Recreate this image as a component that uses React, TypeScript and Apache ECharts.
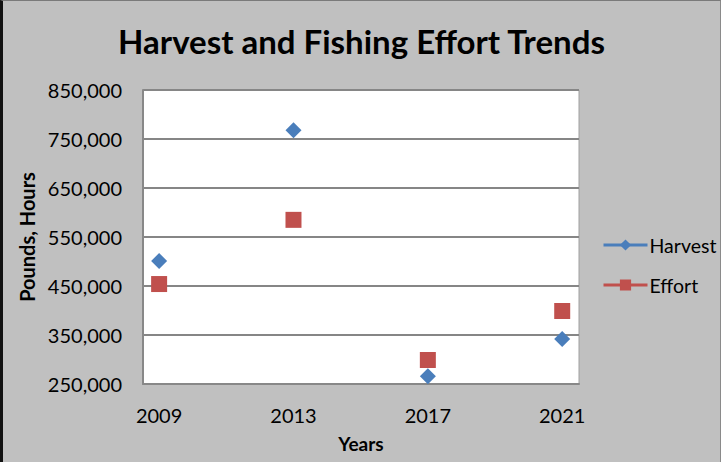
import React, { useEffect, useRef } from "react";
import * as echarts from "echarts";

const years = [2009, 2013, 2017, 2021];
const harvest = [501000, 768000, 266000, 342000];
const effort = [454000, 585000, 299000, 399000];
const yTicks = [250000, 350000, 450000, 550000, 650000, 750000, 850000];

const FONT = "Lato, 'Open Sans', sans-serif";

export default function App() {
  const ref = useRef<HTMLDivElement>(null);

  useEffect(() => {
    if (!ref.current) return;
    const chart = echarts.init(ref.current, undefined, { renderer: "svg" });
    chart.setOption({
      animation: false,
      backgroundColor: "#c0c0c0",
      textStyle: { fontFamily: FONT },
      title: {
        text: "Harvest and Fishing Effort Trends",
        left: "center",
        top: 18,
        textStyle: { fontFamily: FONT, fontSize: 33, fontWeight: "bold", color: "#000" },
      },
      grid: {
        left: 140,
        top: 89,
        width: 436,
        height: 294,
        show: true,
        backgroundColor: "#ffffff",
        borderColor: "#a0a0a0",
        borderWidth: 1,
      },
      xAxis: {
        type: "value",
        min: years[0] - 0.48,
        max: years[years.length - 1] + 0.5,
        name: "Years",
        nameLocation: "middle",
        nameGap: 50,
        nameTextStyle: { fontFamily: FONT, fontSize: 19, fontWeight: "bold", color: "#000" },
        axisLine: { show: true, lineStyle: { color: "#888888", width: 2 } },
        axisTick: { show: false },
        splitLine: { show: false },
        axisLabel: {
          customValues: years,
          formatter: (v: number) => String(v),
          fontFamily: FONT,
          fontSize: 20,
          color: "#000",
          margin: 21,
        },
      },
      yAxis: {
        type: "value",
        min: yTicks[0],
        max: yTicks[yTicks.length - 1],
        interval: 100000,
        name: "Pounds, Hours",
        nameLocation: "middle",
        nameGap: 99,
        nameTextStyle: { fontFamily: FONT, fontSize: 20, fontWeight: "bold", color: "#000" },
        axisLine: { show: true, lineStyle: { color: "#888888", width: 2 } },
        axisTick: { show: false },
        splitLine: { show: true, lineStyle: { color: "#868686", width: 2 } },
        axisLabel: {
          formatter: (v: number) => v.toLocaleString("en-US"),
          fontFamily: FONT,
          fontSize: 20,
          color: "#000",
          margin: 21,
        },
      },
      legend: {
        orient: "vertical",
        left: 594,
        top: 229,
        itemGap: 20,
        itemWidth: 44,
        itemHeight: 14,
        textStyle: { fontFamily: FONT, fontSize: 19.5, color: "#000", padding: [0, 0, 0, -3] },
        lineStyle: { opacity: 1, width: 3 },
        data: ["Harvest", "Effort"],
      },
      series: [
        {
          name: "Harvest",
          type: "line",
          data: years.map((y, i) => [y, harvest[i]]),
          symbol: "diamond",
          symbolSize: 16,
          color: "#4a7ebb",
          itemStyle: { color: "#4a7ebb" },
          lineStyle: { opacity: 0, width: 3, color: "#4a7ebb" },
        },
        {
          name: "Effort",
          type: "line",
          data: years.map((y, i) => [y, effort[i]]),
          symbol: "rect",
          symbolSize: 16,
          color: "#c0504d",
          itemStyle: { color: "#c0504d" },
          lineStyle: { opacity: 0, width: 3, color: "#c0504d" },
        },
      ],
    });
    return () => chart.dispose();
  }, []);

  return (
    <div
      style={{
        width: 721,
        height: 462,
        boxSizing: "border-box",
        borderLeft: "3px solid #111",
        borderTop: "1px solid #7a7a7a",
        borderRight: "1px solid #8a8a8a",
        background: "#c0c0c0",
        position: "absolute",
        left: 0,
        top: 0,
      }}
    >
      <div ref={ref} style={{ width: 717, height: 461 }} />
    </div>
  );
}
